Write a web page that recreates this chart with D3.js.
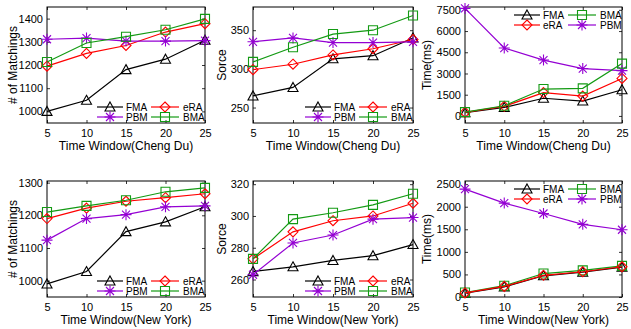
<!DOCTYPE html>
<html lang="en">
<head>
    <meta charset="UTF-8">
    <title>Time Window Experiments</title>
    <script src="https://d3js.org/d3.v7.min.js"></script>
    <style>
        body {
            margin: 0;
            background: #fff;
            font-family: Arial, "Liberation Sans", sans-serif;
        }
        svg { display: block; }
        .tick text { font-size: 11px; fill: #000; }
        .tick line { stroke: #000; stroke-width: 0.8; }
        .frame { fill: none; stroke: #000; stroke-width: 1; }
        .axis-label { font-size: 12px; fill: #000; }
        .legend-text { font-size: 10px; fill: #000; }
    </style>
</head>
<body>
<script>
    // x values shared by every panel
    const windows = [5, 10, 15, 20, 25];

    // Cheng Du - # of Matchings
    const cdMatchFMA = [1000, 1048, 1180, 1225, 1307];
    const cdMatchERA = [1195, 1250, 1284, 1342, 1378];
    const cdMatchPBM = [1311, 1316, 1303, 1303, 1305];
    const cdMatchBMA = [1213, 1295, 1322, 1352, 1399];

    // Cheng Du - Sorce
    const cdScoreFMA = [265, 276, 313, 317, 340];
    const cdScoreERA = [299, 306, 318, 326, 338];
    const cdScorePBM = [335, 340, 334, 334, 335];
    const cdScoreBMA = [309, 328, 345, 350, 369];

    // Cheng Du - Time(ms)
    const cdTimeFMA = [230, 600, 1250, 1050, 1850];
    const cdTimeERA = [250, 680, 1650, 1400, 2650];
    const cdTimePBM = [7600, 4800, 3950, 3350, 3200];
    const cdTimeBMA = [270, 720, 1900, 1950, 3700];

    // New York - # of Matchings
    const nyMatchFMA = [990, 1028, 1150, 1180, 1226];
    const nyMatchERA = [1190, 1222, 1243, 1254, 1266];
    const nyMatchPBM = [1124, 1190, 1202, 1226, 1229];
    const nyMatchBMA = [1210, 1229, 1246, 1272, 1284];

    // New York - Sorce
    const nyScoreFMA = [265, 268, 272, 275, 282];
    const nyScoreERA = [273, 290, 297, 300, 308];
    const nyScorePBM = [263, 283, 288, 298, 299];
    const nyScoreBMA = [273, 298, 302, 307, 314];

    // New York - Time(ms)
    const nyTimeFMA = [85, 225, 470, 550, 660];
    const nyTimeERA = [90, 235, 480, 560, 670];
    const nyTimePBM = [2390, 2080, 1850, 1610, 1490];
    const nyTimeBMA = [100, 250, 520, 590, 690];

    const matchTicks = [1000, 1100, 1200, 1300, 1400];
    const cdScoreTicks = [250, 300, 350];
    const cdTimeTicks = [0, 1500, 3000, 4500, 6000, 7500];
    const nyMatchTicks = [1000, 1100, 1200, 1300];
    const nyScoreTicks = [260, 280, 300, 320];
    const nyTimeTicks = [0, 500, 1000, 1500, 2000, 2500];

    const styles = {
        FMA: { color: "#000000", marker: "triangle" },
        eRA: { color: "#ff0000", marker: "diamond" },
        PBM: { color: "#9400d3", marker: "asterisk" },
        BMA: { color: "#139a13", marker: "square" }
    };

    const width = 631, height = 329;

    const panels = [
        { x: 47, y: 7, w: 158, h: 116, domain: [950, 1450], ticks: matchTicks,
          ylabel: "# of Matchings", ylx: -34, xlabel: "Time Window(Cheng Du)",
          series: [["FMA", cdMatchFMA], ["eRA", cdMatchERA], ["PBM", cdMatchPBM], ["BMA", cdMatchBMA]],
          legend: "bottom", legendOrder: ["FMA", "eRA", "PBM", "BMA"] },
        { x: 253, y: 7, w: 160, h: 116, domain: [230, 380], ticks: cdScoreTicks,
          ylabel: "Sorce", ylx: -31, xlabel: "Time Window(Cheng Du)",
          series: [["FMA", cdScoreFMA], ["eRA", cdScoreERA], ["PBM", cdScorePBM], ["BMA", cdScoreBMA]],
          legend: "bottom", legendOrder: ["FMA", "eRA", "PBM", "BMA"] },
        { x: 465, y: 7, w: 157, h: 116, domain: [-500, 7700], ticks: cdTimeTicks,
          ylabel: "Time(ms)", ylx: -38, xlabel: "Time Window(Cheng Du)",
          series: [["FMA", cdTimeFMA], ["eRA", cdTimeERA], ["PBM", cdTimePBM], ["BMA", cdTimeBMA]],
          legend: "top", legendOrder: ["FMA", "BMA", "eRA", "PBM"] },
        { x: 47, y: 181, w: 158, h: 116, domain: [950, 1305], ticks: nyMatchTicks,
          ylabel: "# of Matchings", ylx: -34, xlabel: "Time Window(New York)",
          series: [["FMA", nyMatchFMA], ["eRA", nyMatchERA], ["PBM", nyMatchPBM], ["BMA", nyMatchBMA]],
          legend: "bottom", legendOrder: ["FMA", "eRA", "PBM", "BMA"] },
        { x: 253, y: 181, w: 160, h: 116, domain: [249, 322], ticks: nyScoreTicks,
          ylabel: "Sorce", ylx: -31, xlabel: "Time Window(New York)",
          series: [["FMA", nyScoreFMA], ["eRA", nyScoreERA], ["PBM", nyScorePBM], ["BMA", nyScoreBMA]],
          legend: "bottom", legendOrder: ["FMA", "eRA", "PBM", "BMA"] },
        { x: 465, y: 181, w: 157, h: 116, domain: [0, 2570], ticks: nyTimeTicks,
          ylabel: "Time(ms)", ylx: -38, xlabel: "Time Window(New York)",
          series: [["PBM", nyTimePBM], ["FMA", nyTimeFMA], ["BMA", nyTimeBMA], ["eRA", nyTimeERA]],
          legend: "top", legendOrder: ["FMA", "BMA", "eRA", "PBM"] }
    ];

    const svg = d3.select("body").append("svg")
        .attr("width", width)
        .attr("height", height);

    function drawMarker(sel, kind, color) {
        if (kind === "triangle") {
            sel.append("path").attr("d", "M0,-5L5,4L-5,4Z");
        } else if (kind === "diamond") {
            sel.append("path").attr("d", "M0,-5L5,0L0,5L-5,0Z");
        } else if (kind === "square") {
            sel.append("path").attr("d", "M-4.5,-4.5H4.5V4.5H-4.5Z");
        } else {
            sel.append("path").attr("d", "M-5.5,0H5.5M0,-5.5V5.5M-4,-4L4,4M-4,4L4,-4");
        }
        sel.selectAll("path")
            .attr("fill", "none")
            .attr("stroke", color)
            .attr("stroke-width", 1.1);
    }

    panels.forEach(p => {
        const g = svg.append("g").attr("transform", `translate(${p.x},${p.y})`);

        const x = d3.scaleLinear().domain([5, 25]).range([0, p.w]);
        const y = d3.scaleLinear().domain(p.domain).range([p.h, 0]);

        // axes, ticks pointing inward like the original
        g.append("g")
            .attr("transform", `translate(0,${p.h})`)
            .call(d3.axisBottom(x).tickValues(windows).tickSize(-3).tickPadding(6).tickFormat(d3.format("d")))
            .call(a => a.select(".domain").remove());
        g.append("g")
            .call(d3.axisLeft(y).tickValues(p.ticks).tickSize(-3).tickPadding(4).tickFormat(d3.format("d")))
            .call(a => a.select(".domain").remove());
        g.append("g")
            .call(d3.axisTop(x).tickValues(windows).tickSize(-3).tickFormat(""))
            .call(a => a.select(".domain").remove());
        g.append("g")
            .attr("transform", `translate(${p.w},0)`)
            .call(d3.axisRight(y).tickValues(p.ticks).tickSize(-3).tickFormat(""))
            .call(a => a.select(".domain").remove());

        g.selectAll(".tick text").attr("font-family", "Arial, 'Liberation Sans', sans-serif");

        g.append("rect")
            .attr("class", "frame")
            .attr("width", p.w)
            .attr("height", p.h);

        const line = d3.line()
            .x((d, i) => x(windows[i]))
            .y(d => y(d));

        p.series.forEach(([name, values]) => {
            const st = styles[name];
            g.append("path")
                .datum(values)
                .attr("fill", "none")
                .attr("stroke", st.color)
                .attr("stroke-width", 1.2)
                .attr("d", line);
            values.forEach((v, i) => {
                const m = g.append("g")
                    .attr("transform", `translate(${x(windows[i])},${y(v)})`);
                drawMarker(m, st.marker, st.color);
            });
        });

        // legend, two columns, anchored to the right edge
        const rows = p.legend === "bottom" ? [p.h - 16, p.h - 6] : [8, 18];
        const cols = [
            { x0: p.w - 108, x1: p.w - 82, tx: p.w - 79 },
            { x0: p.w - 54, x1: p.w - 26, tx: p.w - 22 }
        ];
        p.legendOrder.forEach((name, k) => {
            const st = styles[name];
            const c = cols[k % 2];
            const ry = rows[Math.floor(k / 2)];
            g.append("line")
                .attr("x1", c.x0).attr("x2", c.x1)
                .attr("y1", ry).attr("y2", ry)
                .attr("stroke", st.color)
                .attr("stroke-width", 1.2);
            const m = g.append("g")
                .attr("transform", `translate(${(c.x0 + c.x1) / 2},${ry})`);
            drawMarker(m, st.marker, st.color);
            g.append("text")
                .attr("class", "legend-text")
                .attr("x", c.tx)
                .attr("y", ry)
                .attr("dy", "0.35em")
                .text(name);
        });

        g.append("text")
            .attr("class", "axis-label")
            .attr("x", p.w / 2)
            .attr("y", p.h + 27)
            .attr("text-anchor", "middle")
            .text(p.xlabel);

        g.append("text")
            .attr("class", "axis-label")
            .attr("transform", `translate(${p.ylx},${p.h / 2}) rotate(-90)`)
            .attr("text-anchor", "middle")
            .attr("dy", "0.35em")
            .text(p.ylabel);
    });
</script>
</body>
</html>
